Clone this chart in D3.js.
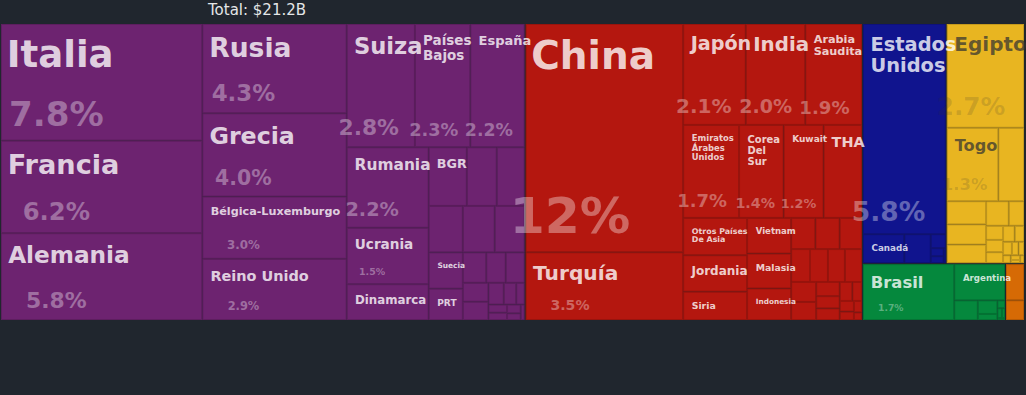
<!DOCTYPE html>
<html>
<head>
<meta charset="utf-8">
<script src="https://cdn.jsdelivr.net/npm/d3@7"></script>
<style>
  html, body { margin: 0; padding: 0; background: #20262e; }
  svg { display: block; }
</style>
</head>
<body>
<div id="chart"></div>
<script>
// total traded value (USD) shown in the header
var totalValue = 21.2e9;

var continentNames = ["Europa", "Asia", "América del Norte", "África", "América del Sur", "Oceanía"];

// shares are % of the total
var europaPaises = ["Italia", "Francia", "Alemania", "Rusia", "Grecia", "Bélgica-Luxemburgo", "Reino Unido", "Suiza", "Países Bajos", "España", "Rumania", "Ucrania", "Dinamarca", "Bulgaria", "Polonia", "Hungría", "Serbia", "Austria", "Chipre", "Suecia", "Portugal", "Eslovaquia", "Croacia", "Albania", "Chequia", "Lituania", "Eslovenia", "Noruega", "Finlandia", "Irlanda", "Letonia", "Estonia", "Bosnia y Herzegovina", "Macedonia del Norte"];
var europaCodigos = ["ITA", "FRA", "DEU", "RUS", "GRC", "BLX", "GBR", "CHE", "NLD", "ESP", "ROU", "UKR", "DNK", "BGR", "POL", "HUN", "SRB", "AUT", "CYP", "SWE", "PRT", "SVK", "HRV", "ALB", "CZE", "LTU", "SVN", "NOR", "FIN", "IRL", "LVA", "EST", "BIH", "MKD"];
var europaShare = [7.76, 6.16, 5.78, 4.26, 3.97, 2.97, 2.92, 2.78, 2.26, 2.21, 2.18, 1.53, 0.97, 0.74, 0.58, 0.54, 0.525, 0.49, 0.46, 0.41, 0.355, 0.235, 0.195, 0.19, 0.16, 0.155, 0.11, 0.09, 0.06, 0.05, 0.045, 0.04, 0.03, 0.02];

var asiaPaises = ["China", "Turquía", "Japón", "India", "Arabia Saudita", "Emiratos Árabes Unidos", "Corea Del Sur", "Kuwait", "Tailandia", "Otros Países De Asia", "Jordania", "Siria", "Vietnam", "Malasia", "Indonesia", "Líbano", "Irak", "Israel", "Pakistán", "Irán", "Bangladés", "Singapur", "Omán", "Catar", "Filipinas", "Sri Lanka", "Baréin", "Georgia", "Azerbaiyán", "Kazajistán", "Hong Kong", "Yemen", "Taiwán"];
var asiaCodigos = ["CHN", "TUR", "JPN", "IND", "SAU", "ARE", "KOR", "KWT", "THA", "XXA", "JOR", "SYR", "VNM", "MYS", "IDN", "LBN", "IRQ", "ISR", "PAK", "IRN", "BGD", "SGP", "OMN", "QAT", "PHL", "LKA", "BHR", "GEO", "AZE", "KAZ", "HKG", "YEM", "TWN"];
var asiaShare = [11.9, 3.53, 2.09, 1.99, 1.89, 1.72, 1.37, 1.23, 1.18, 0.79, 0.77, 0.6, 0.52, 0.51, 0.46, 0.25, 0.25, 0.23, 0.205, 0.195, 0.185, 0.185, 0.165, 0.15, 0.11, 0.095, 0.09, 0.08, 0.06, 0.05, 0.04, 0.03, 0.02];

var nortePaises = ["Estados Unidos", "Canadá", "México", "Panamá", "Guatemala", "Cuba", "República Dominicana"];
var norteCodigos = ["USA", "CAN", "MEX", "PAN", "GTM", "CUB", "DOM"];
var norteShare = [5.82, 0.40, 0.255, 0.07, 0.035, 0.03, 0.01];

var africaPaises = ["Egipto", "Togo", "Marruecos", "Argelia", "Libia", "Túnez", "Nigeria", "Sudáfrica", "Sudán", "Costa de Marfil", "Ghana", "Senegal", "Kenia", "Etiopía", "Angola", "Camerún", "Benín", "Tanzania", "Mauritania", "Yibuti"];
var africaCodigos = ["EGY", "TGO", "MAR", "DZA", "LBY", "TUN", "NGA", "ZAF", "SDN", "CIV", "GHA", "SEN", "KEN", "ETH", "AGO", "CMR", "BEN", "TZA", "MRT", "DJI"];
var africaShare = [2.68, 1.27, 0.63, 0.305, 0.265, 0.245, 0.185, 0.125, 0.08, 0.07, 0.062, 0.062, 0.05, 0.04, 0.03, 0.025, 0.02, 0.015, 0.01, 0.01];

var surPaises = ["Brasil", "Argentina", "Chile", "Colombia", "Perú", "Uruguay", "Venezuela", "Ecuador", "Paraguay"];
var surCodigos = ["BRA", "ARG", "CHL", "COL", "PER", "URY", "VEN", "ECU", "PRY"];
var surShare = [1.72, 0.62, 0.155, 0.09, 0.04, 0.02, 0.015, 0.01, 0.005];

var oceaniaPaises = ["Australia", "Nueva Zelanda"];
var oceaniaCodigos = ["AUS", "NZL"];
var oceaniaShare = [0.23, 0.125];

// continent colours
var palette = {
  "Europa": "#6d2370",
  "Asia": "#b4170f",
  "América del Norte": "#10148e",
  "África": "#e8b521",
  "América del Sur": "#05883d",
  "Oceanía": "#d66a05"
};

var W = 1026, H = 395;
var svg = d3.select("#chart").append("svg")
  .attr("width", W)
  .attr("height", H)
  .style("font-family", "'DejaVu Sans', sans-serif");

svg.append("rect").attr("width", W).attr("height", H).attr("fill", "#20262e");

// header
svg.append("text")
  .attr("x", 257)
  .attr("y", 15)
  .attr("text-anchor", "middle")
  .attr("font-size", 15)
  .attr("fill", "#e4e6e8")
  .text("Total: $" + d3.format(".3s")(totalValue).replace("G", "B"));

var groups = [
  [europaPaises, europaCodigos, europaShare],
  [asiaPaises, asiaCodigos, asiaShare],
  [nortePaises, norteCodigos, norteShare],
  [africaPaises, africaCodigos, africaShare],
  [surPaises, surCodigos, surShare],
  [oceaniaPaises, oceaniaCodigos, oceaniaShare]
].map(function (g, gi) {
  return {
    name: continentNames[gi],
    children: g[0].map(function (p, i) {
      return { name: p, code: g[1][i], value: g[2][i], continent: continentNames[gi] };
    })
  };
});

var root = d3.hierarchy({ name: "root", children: groups })
  .sum(function (d) { return d.value || 0; })
  .sort(function (a, b) { return b.value - a.value; });

d3.treemap()
  .tile(d3.treemapSquarify)
  .size([1023, 296])
  .paddingInner(function (d) { return d.depth === 0 ? 1 : 0; })(root);

var total = root.value;
var leaves = root.leaves();

var g = svg.append("g").attr("transform", "translate(1,24)");

g.selectAll("rect.cell")
  .data(leaves)
  .enter()
  .append("rect")
  .attr("class", "cell")
  .attr("x", function (d) { return d.x0 + 0.5; })
  .attr("y", function (d) { return d.y0 + 0.5; })
  .attr("width", function (d) { return Math.max(0, d.x1 - d.x0 - 1); })
  .attr("height", function (d) { return Math.max(0, d.y1 - d.y0 - 1); })
  .attr("fill", function (d) { return palette[d.data.continent]; })
  .attr("stroke", function (d) { return d3.color(palette[d.data.continent]).darker(0.45); })
  .attr("stroke-width", 1);

// text measuring (em widths of bold DejaVu)
var ctx = document.createElement("canvas").getContext("2d");
ctx.font = "bold 100px 'DejaVu Sans'";
function em(t) { return ctx.measureText(t).width / 100; }

function wrapWords(words, f, aw) {
  var lines = [], cur = "";
  words.forEach(function (wd) {
    var test = cur ? cur + " " + wd : wd;
    if (cur && 0.8 * em(test) * f > aw) { lines.push(cur); cur = wd; }
    else cur = test;
  });
  if (cur) lines.push(cur);
  return lines;
}

function fitLabel(text, w, h, k, withShare) {
  var aw = w - 12;
  var words = text.split(" ");
  var aM = 1.165 + 0.1 * w / h;
  var f = Math.min(39, 0.33 * h, k * Math.sqrt(w * h / (1.2 * em(text) * aM)));
  f = Math.min(f, aw / (0.8 * d3.max(words, em)));
  var lines = wrapWords(words, f, aw - 2);
  while (f > 7 && lines.length * 1.1 * f + 14 > h * (withShare ? 0.62 : 1)) {
    f -= 0.5;
    lines = wrapWords(words, f, aw - 2);
  }
  return { size: f, lines: lines };
}

var fmtShare = d3.format(".2r");

leaves.forEach(function (d) {
  var w = d.x1 - d.x0, h = d.y1 - d.y0;
  // thin slivers get no label
  if (w < 33 || h < 26 || (w < 36 && h > 1.2 * w)) return;
  var base = palette[d.data.continent];
  var dark = d3.hsl(base).l > 0.5;
  var withShare = h >= 50;
  var lab = fitLabel(d.data.name, w, h, withShare ? 0.52 : 0.7, withShare);
  if (lab.size < 7) {
    withShare = false;
    lab = fitLabel(d.data.code, w, h, 0.5, false);
    if (lab.size < 7) return;
  }
  var f = lab.size;
  var t = g.append("text")
    .attr("font-weight", "bold")
    .attr("font-size", f)
    .attr("fill", dark ? "#333333" : "#ffffff")
    .attr("fill-opacity", dark ? 0.72 : 0.8);
  lab.lines.forEach(function (line, i) {
    t.append("tspan")
      .attr("x", d.x0 + 9.5 - 0.1 * f)
      .attr("y", d.y0 + 8.5 + 0.93 * f + i * 1.1 * f)
      .text(line);
  });

  if (withShare) {
    var fs = Math.min(0.32 * w, 0.41 * h - 13.7);
    if (fs < 6) return;
    g.append("text")
      .attr("font-weight", "bold")
      .attr("font-size", fs)
      .attr("text-anchor", "middle")
      .attr("x", d.x0 + 5 + w / 4)
      .attr("y", d.y1 - 7 - 0.236 * fs)
      .attr("fill", dark ? "#333333" : "#ffffff")
      .attr("fill-opacity", dark ? 0.16 : 0.35)
      .text(fmtShare(d.value / total * 100) + "%");
  }
});
</script>
</body>
</html>
